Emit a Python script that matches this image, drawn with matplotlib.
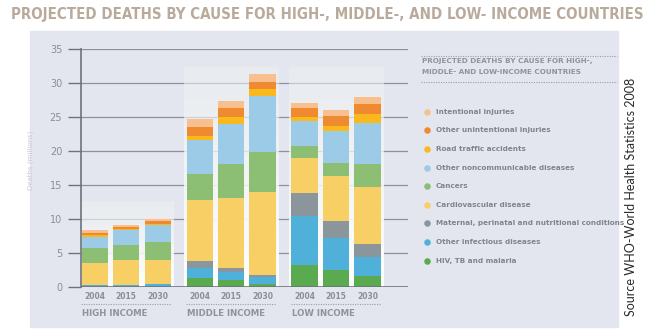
import numpy as np
import matplotlib.pyplot as plt
from matplotlib.patches import Rectangle
from matplotlib.colors import to_rgb

# data (millions of deaths)
years = ["2004", "2015", "2030"]
groups = ["HIGH INCOME", "MIDDLE INCOME", "LOW INCOME"]
causes = ["HIV, TB and malaria", "Other infectious diseases",
          "Maternal, perinatal and nutritional conditions", "Cardiovascular disease",
          "Cancers", "Other noncommunicable diseases", "Road traffic accidents",
          "Other unintentional injuries", "Intentional injuries"]
colors = ["#5aaa4f", "#4fb0da", "#8a969c", "#f7cf65", "#8cbf73",
          "#9ccbe8", "#f9b91c", "#f08a30", "#f9c08f"]

# cumulative tops of each segment per bar (HI 2004..2030, MI, LI)
tops = np.array([
    [0.05, 0.3, 0.3, 3.5, 5.7, 7.45, 7.7, 8.0, 8.4],
    [0.05, 0.3, 0.3, 4.0, 6.2, 8.4, 8.6, 8.9, 9.15],
    [0.05, 0.5, 0.5, 4.0, 6.6, 9.15, 9.3, 9.8, 10.0],
    [1.3, 2.8, 3.9, 12.8, 16.7, 21.6, 22.2, 23.6, 24.7],
    [1.0, 2.2, 2.9, 13.1, 18.1, 24.0, 25.0, 26.4, 27.3],
    [0.5, 1.5, 1.8, 13.95, 19.9, 28.1, 29.1, 30.2, 31.3],
    [3.3, 10.5, 13.9, 19.0, 20.8, 24.4, 25.0, 26.4, 27.0],
    [2.5, 7.3, 9.8, 16.4, 18.3, 22.9, 23.7, 25.1, 26.0],
    [1.6, 4.4, 6.3, 14.8, 18.1, 24.1, 25.4, 26.9, 28.0],
])
segments = np.diff(np.hstack([np.zeros((len(tops), 1)), tops]), axis=1)
region_tops = [12.5, 32.3, 32.3]

W, H = 651, 331
fig = plt.figure(figsize=(W / 100, H / 100), dpi=100)
fig.patch.set_facecolor("white")

# overlay in pixel coords for panel / legend decorations
ov = fig.add_axes([0, 0, 1, 1])
ov.set_xlim(0, W)
ov.set_ylim(H, 0)
ov.axis("off")
ov.add_patch(Rectangle((30, 31), 588, 296, color="#e3e6ee", zorder=0))

ax = fig.add_axes([81 / W, (H - 287.3) / H, 327 / W, 238.3 / H])
ax.patch.set_alpha(0)
pos = np.array([0, 1.2, 2.4, 4.0, 5.2, 6.4, 8.0, 9.2, 10.4])

# lighter backdrop behind each group: white at the bottom, fading upwards
t = np.linspace(0, 1, 100)
c0, c1 = np.array(to_rgb("#ffffff")), np.array(to_rgb("#eef0f2"))
rgba = np.zeros((100, 1, 4))
rgba[:, 0, :3] = c0 + (c1 - c0) * t[:, None]
rgba[:, 0, 3] = 1.0 - 0.5 * t ** 1.5
for g in range(3):
    x0 = pos[g * 3] - 0.6
    x1 = pos[g * 3 + 2] + 0.6
    ax.imshow(rgba, extent=(x0, x1, 0, region_tops[g]), origin="lower",
              aspect="auto", zorder=2)

for y in range(5, 40, 5):
    ax.axhline(y, color="#8d919a", lw=0.9, zorder=1)
ax.axhline(0, color="#6e727a", lw=1.2, zorder=4)

bottom = np.zeros(len(pos))
for i in range(len(causes)):
    ax.bar(pos, segments[:, i], width=1.0, bottom=bottom, color=colors[i],
           linewidth=0, zorder=3)
    bottom += segments[:, i]

ax.set_xlim(-0.52, 11.94)
ax.set_ylim(0, 35)
for s in ["top", "right", "bottom"]:
    ax.spines[s].set_visible(False)
ax.spines["left"].set_color("#6e727a")
ax.spines["left"].set_linewidth(1.2)
ax.spines["left"].set_zorder(5)
ax.set_yticks(range(0, 40, 5))
ax.tick_params(axis="y", length=9.5, width=1, color="#6e727a", labelsize=7,
               labelcolor="#8a8e96", pad=4)
ax.set_xticks([])
for k, p in enumerate(pos):
    ax.text(p, -1.3, years[k % 3], ha="center", va="center",
            fontsize=5.5, color="#8a8e96", fontweight="bold")

# group labels and dotted underline
for g, name in enumerate(groups):
    x0 = 81 + (pos[g * 3] - pos[0]) * 26.25
    ov.plot([x0, x0 + 90], [304, 304], color="#9a9ea6", lw=0.8, ls=(0, (1, 1.2)))
    ov.text(x0 + 1, 313.5, name, fontsize=6.2, fontweight="bold", color="#8f939b",
            va="center", ha="left")

ov.text(31, 160, "Deaths (millions)", rotation=90, fontsize=5, color="#c9ccd3",
        va="center", ha="center")

# title
ov.text(327, 15, "PROJECTED DEATHS BY CAUSE FOR HIGH-, MIDDLE-, AND LOW- INCOME COUNTRIES",
        ha="center", va="center", fontsize=10.8, fontweight="bold",
        fontstretch="condensed", color="#b9aa9c")

# legend block
for yy in (55.7, 82.3):
    ov.plot([421, 617], [yy, yy], color="#9a9ea6", lw=0.8, ls=(0, (1, 1.2)))
ov.text(422.5, 61.5, "PROJECTED DEATHS BY CAUSE FOR HIGH-,", fontsize=5.2,
        fontweight="bold", color="#8f939b", va="center")
ov.text(422.5, 71.8, "MIDDLE- AND LOW-INCOME COUNTRIES", fontsize=5.2,
        fontweight="bold", color="#8f939b", va="center")
for k, i in enumerate(range(len(causes) - 1, -1, -1)):
    yy = 111.7 + k * 18.63
    ov.scatter([427], [yy], s=22, color=colors[i], linewidths=0)
    ov.text(436, yy, causes[i], fontsize=5.2, color="#80848c",
            fontweight="bold", va="center", ha="left")

ov.text(631, 197, "Source WHO-World Health Statistics 2008", rotation=90,
        fontsize=9, family="Lato", color="#2a2a2a", va="center", ha="center")

fig.savefig("out.png", dpi=100)
